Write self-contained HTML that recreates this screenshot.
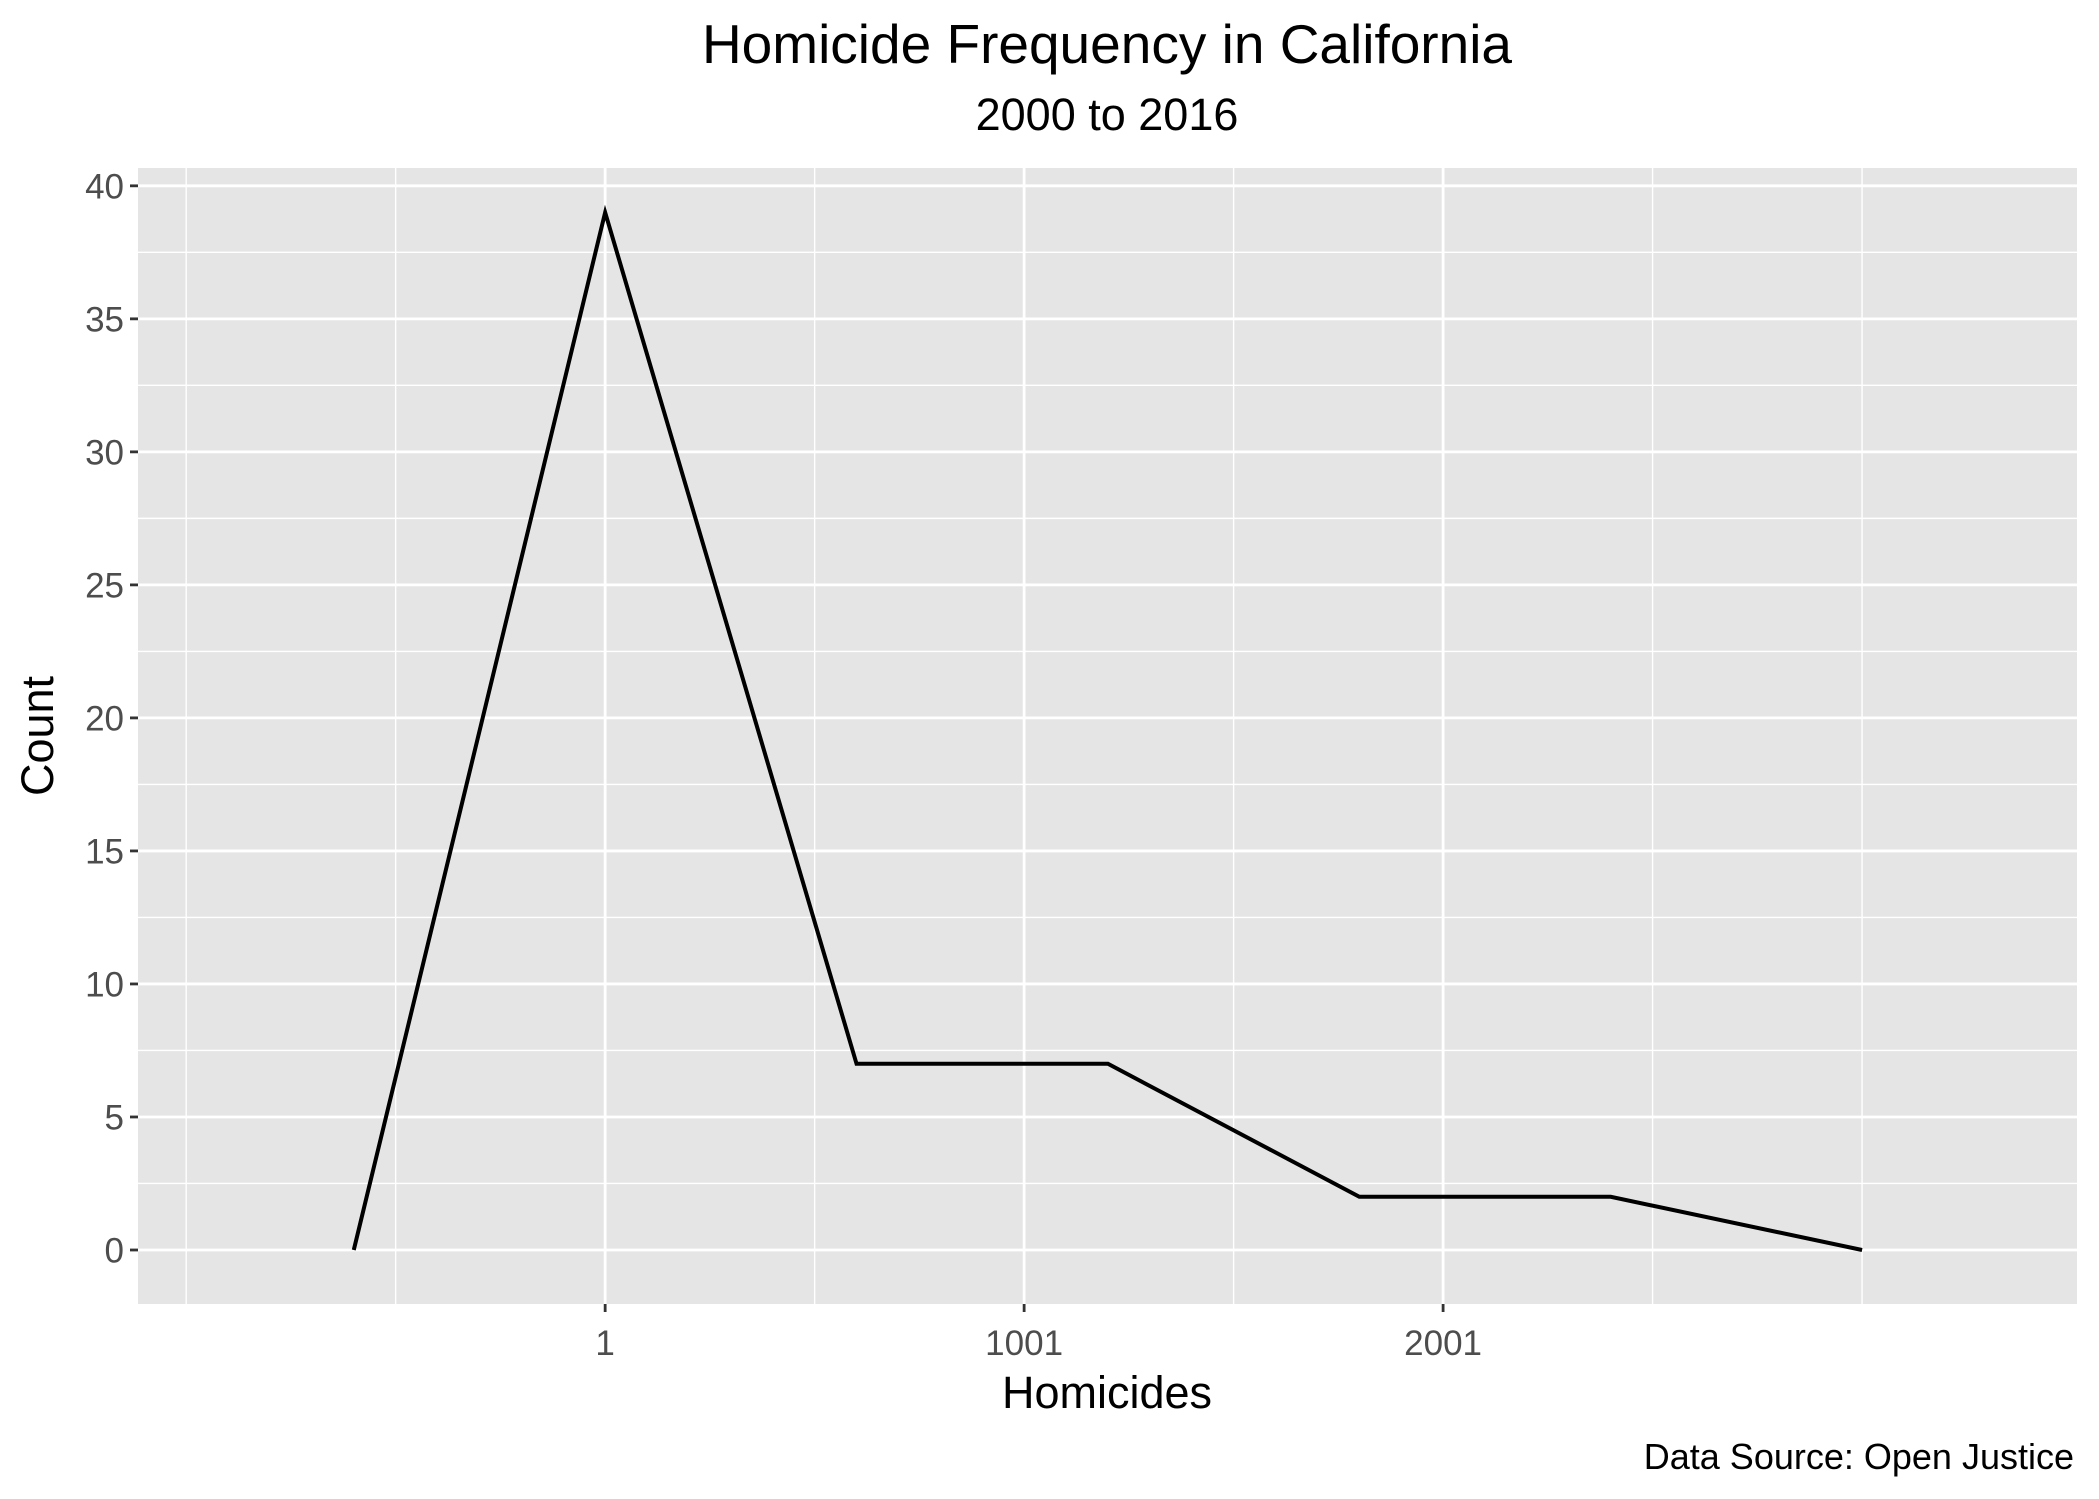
<!DOCTYPE html>
<html><head><meta charset="utf-8"><style>
body{margin:0;background:#fff}
svg{display:block;font-family:"Liberation Sans",Arial,sans-serif}
</style></head><body>
<svg id="chart" width="2099" height="1499" viewBox="0 0 2099 1499">
<text x="1107" y="63" font-size="55" text-anchor="middle" fill="#000">Homicide Frequency in California</text>
<text x="1107" y="130" font-size="45" text-anchor="middle" fill="#000">2000 to 2016</text>
<rect x="138" y="168" width="1939" height="1136" fill="#e5e5e5"/>
<g id="grid"></g><g id="axes"></g><g id="series"></g>
<text x="1107" y="1408" font-size="45" text-anchor="middle" fill="#000">Homicides</text>
<text transform="translate(53,736) rotate(-90)" font-size="45" text-anchor="middle" fill="#000">Count</text>
<text x="2074" y="1469" font-size="36" text-anchor="end" fill="#000">Data Source: Open Justice</text>
</svg>
<script>
const xValues = [-599, 1, 601, 1201, 1801, 2401, 3001];
const counts = [0, 39, 7, 7, 2, 2, 0];
const xMajorTicks = [1, 1001, 2001];
const xMajorLabels = ["1", "1001", "2001"];
const xMinorTicks = [-999, -499, 501, 1501, 2501, 3001];
const yMajorTicks = [0, 5, 10, 15, 20, 25, 30, 35, 40];
const yMinorTicks = [2.5, 7.5, 12.5, 17.5, 22.5, 27.5, 32.5, 37.5];

const L=138,R=2077,T=168,B=1304;
const xMin=-1114,xMax=3514,yMin=-2.03,yMax=40.67;
const sx=v=>L+(v-xMin)/(xMax-xMin)*(R-L);
const sy=v=>B-(v-yMin)/(yMax-yMin)*(B-T);
const NS="http://www.w3.org/2000/svg";
function mk(tag,attrs,parent){const e=document.createElementNS(NS,tag);for(const k in attrs)e.setAttribute(k,attrs[k]);parent.appendChild(e);return e;}
const grid=document.getElementById('grid'),axes=document.getElementById('axes'),series=document.getElementById('series');

yMinorTicks.forEach(v=>{const e=mk('line',{x1:L,x2:R,y1:sy(v),y2:sy(v),stroke:'#fff','stroke-width':1.4},grid);

});
xMinorTicks.forEach(v=>{const e=mk('line',{x1:sx(v),x2:sx(v),y1:T,y2:B,stroke:'#fff','stroke-width':1.4},grid);

});
yMajorTicks.forEach(v=>{const e=mk('line',{x1:L,x2:R,y1:sy(v),y2:sy(v),stroke:'#fff','stroke-width':2.8},grid);


const t=mk('line',{x1:L-8,x2:L,y1:sy(v),y2:sy(v),stroke:'#333','stroke-width':2.8},axes);


const lb=mk('text',{x:L-14,y:sy(v)+12.5,'font-size':35,'text-anchor':'end',fill:'#4d4d4d'},axes);
lb.textContent=String(v);

});
xMajorTicks.forEach((v,i)=>{const e=mk('line',{x1:sx(v),x2:sx(v),y1:T,y2:B,stroke:'#fff','stroke-width':2.8},grid);


const t=mk('line',{x1:sx(v),x2:sx(v),y1:B,y2:B+8,stroke:'#333','stroke-width':2.8},axes);


const lb=mk('text',{x:sx(v),y:B+51,'font-size':35,'text-anchor':'middle',fill:'#4d4d4d'},axes);
lb.textContent=xMajorLabels[i];

});

const pts=xValues.map((x,i)=>sx(x)+','+sy(counts[i])).join(' ');
const line=mk('polyline',{points:pts,fill:'none',stroke:'#000','stroke-width':4,'stroke-linejoin':'miter'},series);


</script>
</body></html>
